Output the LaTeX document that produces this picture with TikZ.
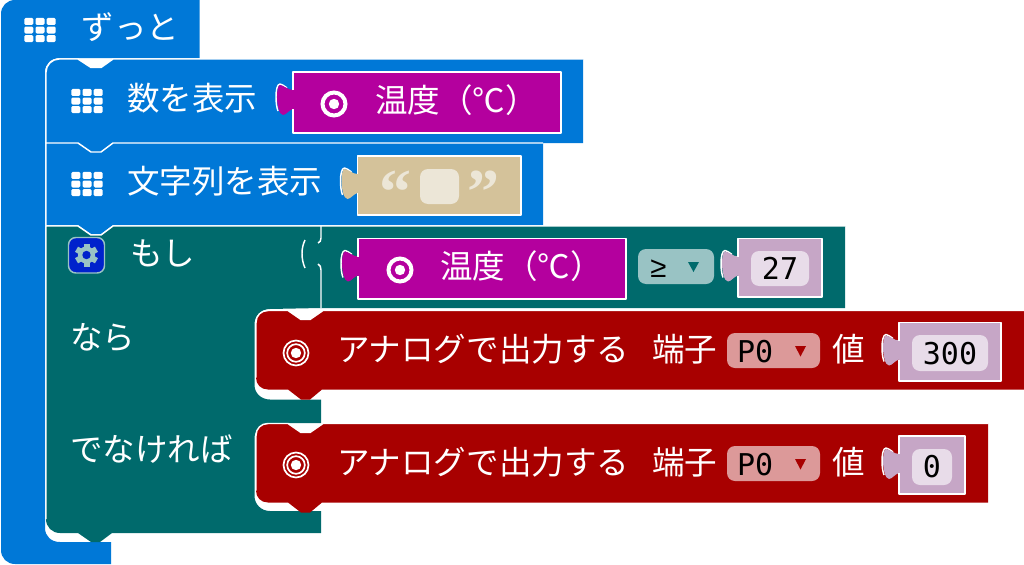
\documentclass[tikz,border=0pt]{standalone}
\usepackage{fontspec}
\setmainfont{Noto Sans CJK JP}
\newfontfamily\monof{DejaVu Sans Mono}
\newfontfamily\quotef{Liberation Serif}
\newfontfamily\opf{Liberation Sans}
\definecolor{cblue}{HTML}{0078D7}
\definecolor{cteal}{HTML}{006A6C}
\definecolor{cred}{HTML}{A80000}
\definecolor{cmag}{HTML}{B4009E}
\definecolor{ctan}{HTML}{D4C29A}
\definecolor{ctanl}{HTML}{ECE6D7}
\definecolor{cnum}{HTML}{C6A6C6}
\definecolor{cnuml}{HTML}{E8DCE9}
\definecolor{cdrop}{HTML}{DC9999}
\definecolor{cdropt}{HTML}{99C3C4}
\definecolor{cgear}{HTML}{0022CC}
\tikzset{
  lbl/.style={anchor=base west,inner sep=0pt,outer sep=0pt,text=white,font=\fontsize{24.4}{24}\selectfont},
  numt/.style={anchor=base,inner sep=0pt,outer sep=0pt,text=black,font=\monof\fontsize{22.5}{24}\selectfont},
  quot/.style={anchor=base,inner sep=0pt,text=ctanl,font=\quotef\bfseries\fontsize{48}{48}\selectfont},
  hl/.style={draw=white,line width=1.1pt,line join=round,fill=none},
  fieldbox/.style={rounded corners=6pt}
}
% value block: x, top, right, bottom, colour
\newcommand{\valblock}[5]{%
  \draw[hl] (#1-15,#2+39) .. controls (#1-16.5,#2+35) and (#1-17,#2+30) .. (#1-17,#2+25)
     .. controls (#1-17,#2+19) and (#1-16,#2+12) .. (#1-13,#2+12) .. controls (#1-11,#2+12) and (#1-9,#2+14) .. (#1-6,#2+16);
  \fill[#5] (#1,#2) -- (#3,#2) -- (#3,#4) -- (#1,#4) -- (#1,#2+37)
     .. controls (#1-4,#2+38) and (#1-7,#2+43) .. (#1-10,#2+43)
     .. controls (#1-14,#2+43) and (#1-16,#2+32) .. (#1-16,#2+25)
     .. controls (#1-16,#2+19) and (#1-15,#2+13) .. (#1-13,#2+13)
     .. controls (#1-10,#2+13) and (#1-5,#2+18) .. (#1,#2+18) -- cycle;
  \draw[hl] (#1,#2+18) -- (#1,#2) -- (#3,#2) -- (#3,#4) -- (#1,#4) -- (#1,#2+37);
}
% grid icon centred
\newcommand{\gridicon}[2]{%
  \foreach \i in {-1,0,1}{\foreach \j in {-1,0,1}{%
    \fill[white,rounded corners=1pt] (#1+\i*11.2-4.5,#2+\j*8.6-3.5) rectangle (#1+\i*11.2+4.5,#2+\j*8.6+3.5);}}%
}
\newcommand{\tempicon}[2]{%
  \draw[white,line width=3pt] (#1,#2) circle (11.5);
  \fill[white] (#1,#2) circle (5.2);
}
\newcommand{\pinicon}[2]{%
  \draw[white,line width=1.3pt] (#1,#2) circle (12.5);
  \draw[white,line width=1.3pt] (#1,#2) circle (8.8);
  \fill[white] (#1,#2) circle (5.2);
}
% red statement block: top y, right x, bottom = top+79
\newcommand{\redblock}[2]{%
  \pgfmathsetmacro{\yn}{#1+9}\pgfmathsetmacro{\yq}{#1+79}\pgfmathsetmacro{\yr}{#1+89}%
  \pgfmathsetmacro{\ys}{#1+12}\pgfmathsetmacro{\yt}{#1+67}%
  \fill[cred] (256,\ys) .. controls (256,#1+5) and (261,#1) .. (268,#1) -- (288,#1) -- (301,\yn) -- (310,\yn) -- (323,#1)
     -- (#2,#1) -- (#2,\yq) -- (322,\yq) -- (310,\yr) -- (301,\yr) -- (288,\yq) -- (268,\yq)
     .. controls (261,\yq) and (256,#1+74) .. (256,\yt) -- cycle;
  \draw[hl] (256,\yt) -- (256,\ys) .. controls (256,#1+5) and (261,#1) .. (268,#1) -- (288,#1) -- (301,\yn) -- (310,\yn) -- (323,#1) -- (#2,#1);
}
\begin{document}
\begin{tikzpicture}[x=0.75pt,y=-0.75pt]
\useasboundingbox (0,0) rectangle (1024,564);
% forever C-shape
\fill[cblue] (1,14) .. controls (1,6) and (7,0) .. (15,0) -- (199.5,0) -- (199.5,58) -- (60,58)
  .. controls (51,58) and (45,64) .. (45,72) -- (45,528)
  .. controls (45,536) and (51,542) .. (60,542) -- (111,542) -- (111,564) -- (15,564)
  .. controls (7,564) and (1,558) .. (1,550) -- cycle;
% block 1
\fill[cblue] (46,72) .. controls (46,65) and (52,59) .. (59,59) -- (78,59) -- (91,67.5) -- (101,67.5) -- (113,59) -- (583,59) -- (583,143) -- (113,143) -- (101,152) -- (91,152) -- (78,143) -- (46,143) -- cycle;
\draw[hl] (46,143) -- (46,72) .. controls (46,65) and (52,59) .. (59,59) -- (78,59) -- (91,67.5) -- (101,67.5) -- (113,59) -- (583,59);
% block 2
\fill[cblue] (46,143) -- (78,143) -- (91,152) -- (101,152) -- (113,143) -- (543,143) -- (543,225) -- (113,225) -- (101,234) -- (91,234) -- (78,225) -- (46,225) -- cycle;
\draw[hl] (46,225) -- (46,143) -- (78,143) -- (91,152) -- (101,152) -- (113,143) -- (543,143);
% if block
\fill[cteal] (46,226) -- (78,226) -- (91,235) -- (101,235) -- (113,226) -- (845,226) -- (845,308) -- (321,308) -- (270,309)
  .. controls (261,309) and (254.5,316) .. (254.5,324) -- (254.5,385) .. controls (254.5,393) and (261,399.5) .. (270,399.5) -- (321,399.5) -- (321,423)
  -- (270,423) .. controls (261,423) and (254.5,430) .. (254.5,438) -- (254.5,496) .. controls (254.5,504) and (261,511) .. (270,511) -- (321,511) -- (321,533)
  -- (112,533) -- (100,542) -- (91,542) -- (78,533) -- (60,533) .. controls (52,533) and (46,527) .. (46,519) -- cycle;
\draw[hl] (46,519) -- (46,226) -- (78,226) -- (91,235) -- (101,235) -- (113,226) -- (845,226);
\draw[hl] (321,226) -- (321,238) .. controls (321,241) and (320,242) .. (318,243);
\draw[hl] (318,264) .. controls (320,265) and (321,267) .. (321,270) -- (321,308);
\draw[hl] (305,240) .. controls (301,248) and (301,259) .. (305,268);
% red blocks
\redblock{310.5}{1024}
\redblock{423.5}{988}
% value blocks
\valblock{293}{72}{561}{133}{cmag}
\valblock{357.5}{156}{521}{215}{ctan}
\valblock{358}{238.5}{626}{299}{cmag}
\valblock{738}{238.5}{822}{297}{cnum}
\valblock{899}{322.5}{1001}{381}{cnum}
\valblock{899}{436}{965}{494}{cnum}
% fields
\fill[ctanl,fieldbox] (420,169) rectangle (459,204);
\fill[cnuml,fieldbox] (751,251) rectangle (809,286);
\fill[cnuml,fieldbox] (912,335) rectangle (988,371);
\fill[cnuml,fieldbox] (912,449) rectangle (952,485);
\fill[cdropt,fieldbox] (638,249) rectangle (714,284);
\fill[cdrop,fieldbox] (727,333) rectangle (820,368);
\fill[cdrop,fieldbox] (727,446) rectangle (820,481);
\fill[cteal] (688,262) -- (699,262) -- (693.5,272) -- cycle;
\fill[cred] (795,346) -- (806,346) -- (800.5,356.5) -- cycle;
\fill[cred] (795,459) -- (806,459) -- (800.5,469.5) -- cycle;
% icons
\gridicon{40}{30}
\gridicon{87}{101}
\gridicon{87}{184}
\tempicon{334}{104}
\tempicon{400}{270}
\pinicon{296}{353}
\pinicon{296}{465}
% gear
\fill[cgear,draw=cdropt,line width=1.1pt,rounded corners=5.5pt] (68.5,237.5) rectangle (104.5,273);
\foreach \a in {0,60,120,180,240,300}{
  \fill[cdropt,rotate around={\a:(86.5,255)}] (83.5,243.5) rectangle (89.5,250);
}
\fill[cdropt] (86.5,255) circle (8.6);
\fill[cgear] (86.5,255) circle (4.2);
% texts
\node[lbl] (t1) at (81.5,39) {ずっと};
\node[lbl] (t2) at (127,110.5) {数を表示};
\node[lbl] (t3) at (375,112.5) {温度（℃）};
\node[lbl] (t4) at (127,193.5) {文字列を表示};
\node[lbl] (t5) at (130,265) {もし};
\node[lbl] (t6) at (440,278.5) {温度（℃）};
\node[lbl] (t7) at (70,349) {なら};
\node[lbl] (t8) at (70,461) {でなければ};
\node[lbl] (t9) at (337,361) {アナログで出力する};
\node[lbl] (t10) at (652,361) {端子};
\node[lbl] (t11) at (832,361) {値};
\node[lbl] (t12) at (337,474) {アナログで出力する};
\node[lbl] (t13) at (652,474) {端子};
\node[lbl] (t14) at (832,474) {値};
\node[numt] (n1) at (780,279) {27};
\node[numt] (n2) at (950,364) {300};
\node[numt] (n3) at (932,477) {0};
\node[numt,anchor=base west] (n4) at (737,362) {P0};
\node[numt,anchor=base west] (n5) at (737,475) {P0};
\node[anchor=base west,inner sep=0pt,text=black,font=\opf\fontsize{22}{24}\selectfont] (n6) at (650,277) {≥};
\node[quot] (q1) at (395,213) {“};
\node[quot] (q2) at (483,213) {”};
\end{tikzpicture}
\end{document}
